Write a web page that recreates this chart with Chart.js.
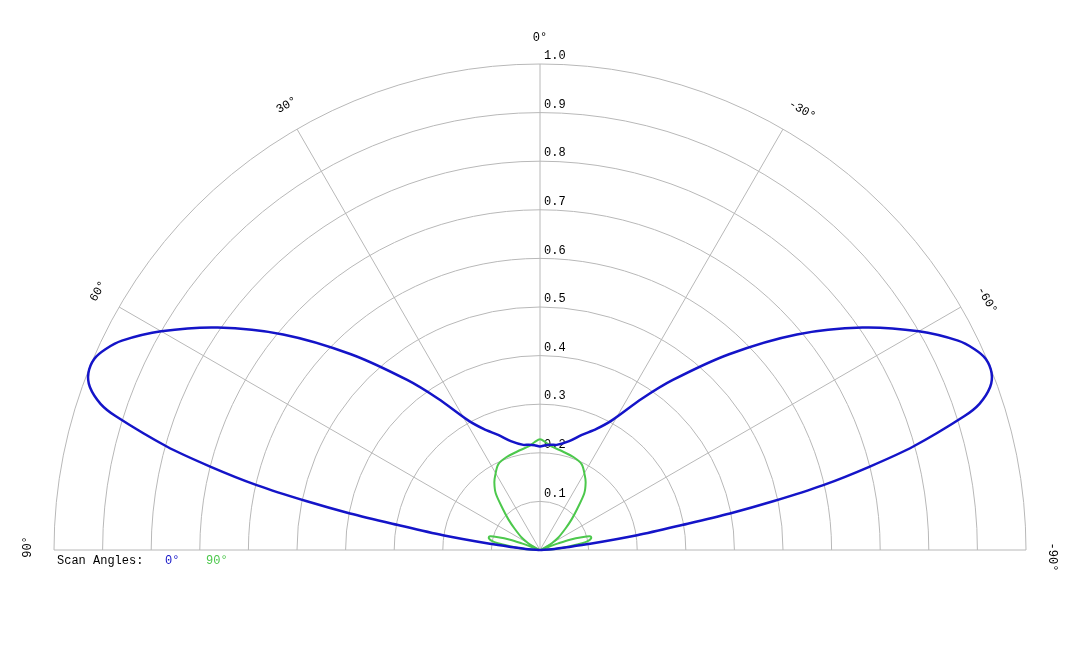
<!DOCTYPE html>
<html>
<head>
<meta charset="utf-8">
<script src="https://cdn.jsdelivr.net/npm/chart.js"></script>
<style>
  html, body { margin: 0; padding: 0; background: #fff; }
  canvas { display: block; }
</style>
</head>
<body>
<canvas id="polar" width="1080" height="648"></canvas>
<script>
// angle from broadside in degrees (positive = left side), symmetric patterns
const blueAngles = [0, 3, 6, 9, 15, 20, 25, 29, 34, 38, 44, 50, 55.4, 60, 63.4, 65.2, 66.8, 68.6, 70.1, 71.6, 72.5, 74.5, 75.8, 77.1, 78.2, 79.1, 80.0, 81.4, 83.0, 84.3, 86, 90];
const blueValues = [0.213, 0.216, 0.218, 0.219, 0.232, 0.252, 0.275, 0.305, 0.376, 0.444, 0.56, 0.69, 0.806, 0.900, 0.962, 0.985, 0.998, 0.998, 0.985, 0.953, 0.915, 0.797, 0.70, 0.598, 0.49, 0.398, 0.299, 0.202, 0.104, 0.052, 0.025, 0];

const greenAngles = [0, 3, 6, 13, 20, 26, 31, 34, 38, 42, 46, 50, 56, 60, 64, 67, 69, 70, 71, 73, 75, 77, 79, 81, 83, 86, 90];
const greenValues = [0.228, 0.222, 0.215, 0.208, 0.203, 0.196, 0.179, 0.168, 0.148, 0.115, 0.090, 0.068, 0.045, 0.028, 0.012, 0.004, 0.015, 0.04, 0.065, 0.09, 0.108, 0.108, 0.102, 0.088, 0.062, 0.035, 0.0];

const radialTicks = ["0.1", "0.2", "0.3", "0.4", "0.5", "0.6", "0.7", "0.8", "0.9", "1.0"];
const angleTicks = [90, 60, 30, 0, -30, -60, -90];
const seriesNames = ["0°", "90°"];

const BLUE = "#1414c8";
const GREEN = "#4cc84c";
const GRID = "#b8b8b8";
const FONT = "12px 'Liberation Mono', 'Courier New', monospace";

// turn (angle, r) into x/y, mirrored for the right half
function toPoints(angles, values) {
  const pts = [];
  for (let i = angles.length - 1; i >= 0; i--) {
    const a = angles[i] * Math.PI / 180;
    pts.push({ x: -values[i] * Math.sin(a), y: values[i] * Math.cos(a) });
  }
  for (let i = 1; i < angles.length; i++) {
    const a = -angles[i] * Math.PI / 180;
    pts.push({ x: -values[i] * Math.sin(a), y: values[i] * Math.cos(a) });
  }
  return pts;
}

const polarGrid = {
  id: "polarGrid",
  beforeDatasetsDraw(chart) {
    const { ctx, scales } = chart;
    const cx = scales.x.getPixelForValue(0);
    const cy = scales.y.getPixelForValue(0);
    const R = scales.x.getPixelForValue(1) - cx;

    ctx.save();
    ctx.strokeStyle = GRID;
    ctx.lineWidth = 1;
    radialTicks.forEach(t => {
      ctx.beginPath();
      ctx.arc(cx, cy, parseFloat(t) * R, Math.PI, 2 * Math.PI);
      ctx.stroke();
    });
    angleTicks.forEach(deg => {
      const a = deg * Math.PI / 180;
      ctx.beginPath();
      ctx.moveTo(cx, cy);
      ctx.lineTo(cx - R * Math.sin(a), cy - R * Math.cos(a));
      ctx.stroke();
    });

    ctx.font = FONT;
    ctx.fillStyle = "#000";
    ctx.textAlign = "left";
    ctx.textBaseline = "middle";
    radialTicks.forEach(t => {
      ctx.fillText(t, cx + 4, cy - parseFloat(t) * R - 8);
    });

    // angle labels, rotated along the circle
    ctx.textAlign = "center";
    angleTicks.forEach(deg => {
      const a = deg * Math.PI / 180;
      const lr = R + 26;
      ctx.save();
      ctx.translate(cx - lr * Math.sin(a), cy - lr * Math.cos(a));
      ctx.rotate(-a);
      const shift = deg < 0 ? 7 : (deg > 0 ? 3 : 0);
      ctx.fillText(deg + "°", shift, 0);
      ctx.restore();
    });

    // legend
    ctx.textAlign = "left";
    ctx.fillText("Scan Angles:", 57, cy + 11);
    ctx.fillStyle = BLUE;
    ctx.fillText(seriesNames[0], 165, cy + 11);
    ctx.fillStyle = GREEN;
    ctx.fillText(seriesNames[1], 206, cy + 11);
    ctx.restore();
  }
};

new Chart(document.getElementById("polar").getContext("2d"), {
  type: "scatter",
  data: {
    datasets: [
      {
        label: seriesNames[0],
        data: toPoints(blueAngles, blueValues),
        showLine: true,
        borderColor: BLUE,
        borderWidth: 2.5,
        pointRadius: 0,
        tension: 0.3,
        clip: false
      },
      {
        label: seriesNames[1],
        data: toPoints(greenAngles, greenValues),
        showLine: true,
        borderColor: GREEN,
        borderWidth: 2,
        pointRadius: 0,
        tension: 0.3,
        clip: false
      }
    ]
  },
  options: {
    responsive: false,
    animation: false,
    layout: { padding: { left: 54, right: 54, top: 64, bottom: 98 } },
    scales: {
      x: { type: "linear", min: -1, max: 1, display: false },
      y: { type: "linear", min: 0, max: 1, display: false }
    },
    plugins: {
      legend: { display: false },
      tooltip: { enabled: false }
    }
  },
  plugins: [polarGrid]
});
</script>
</body>
</html>
